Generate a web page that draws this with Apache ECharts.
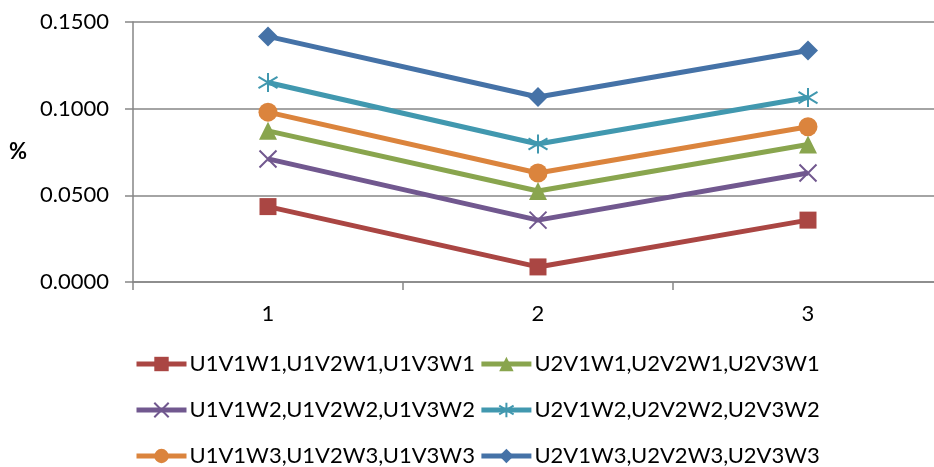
<!DOCTYPE html>
<html><head><meta charset="utf-8">
<script src="https://cdn.jsdelivr.net/npm/echarts@6/dist/echarts.min.js"></script>
<style>html,body{margin:0;padding:0;background:#fff}#c{width:934px;height:467px}</style>
</head><body><div id="c"></div>
<script>
const categories = ['1', '2', '3'];
const seriesNames = [
  'U1V1W1,U1V2W1,U1V3W1', 'U2V1W1,U2V2W1,U2V3W1',
  'U1V1W2,U1V2W2,U1V3W2', 'U2V1W2,U2V2W2,U2V3W2',
  'U1V1W3,U1V2W3,U1V3W3', 'U2V1W3,U2V2W3,U2V3W3'
];
const s1 = [0.0435, 0.0087, 0.0357];
const s2 = [0.0872, 0.0525, 0.0793];
const s3 = [0.0710, 0.0357, 0.0629];
const s4 = [0.1151, 0.0796, 0.1064];
const s5 = [0.0980, 0.0629, 0.0896];
const s6 = [0.1417, 0.1067, 0.1336];
const yTicks = [0, 0.05, 0.10, 0.15];

const values = [s1, s2, s3, s4, s5, s6];
const colors = ['#AA4643', '#89A54E', '#71588F', '#4198AF', '#DB843D', '#4572A7'];
const symbols = ['rect', 'triangle', 'path://M0,0L10,10M10,0L0,10',
  'path://M5,0L5,10M0,2L10,8M0,8L10,2', 'circle', 'diamond'];
const symSizes = [17, 18, 17, 19, 19, 20];

const font = 'Lato, "Open Sans", sans-serif';
const chart = echarts.init(document.getElementById('c'));
const series = values.map((v, i) => {
  const stroked = symbols[i].startsWith('path');
  return {
    name: seriesNames[i], type: 'line', data: v,
    symbol: symbols[i], symbolSize: symSizes[i],
    lineStyle: {color: colors[i], width: 5},
    itemStyle: {color: colors[i], borderColor: colors[i], borderWidth: stroked ? 2 : 0},
    z: 10 - i
  };
});
const legendRow = (names, top) => ({
  data: names, top: top, left: 134, orient: 'horizontal',
  itemWidth: 50, itemHeight: 18, itemGap: 4,
  lineStyle: {width: 5},
  textStyle: {fontFamily: font, fontSize: 22, color: '#000', padding: [0, 0, 0, -2]},
  padding: 0
});
chart.setOption({
  animation: false,
  grid: {left: 133, top: 22, width: 810, height: 260, outerBoundsMode: 'none', containLabel: false},
  legend: [
    legendRow([seriesNames[0], seriesNames[1]], 353),
    legendRow([seriesNames[2], seriesNames[3]], 399),
    legendRow([seriesNames[4], seriesNames[5]], 445)
  ],
  xAxis: {
    type: 'category', data: categories, boundaryGap: true,
    axisLine: {lineStyle: {color: '#868686', width: 1.5}},
    axisTick: {show: true, length: 8, lineStyle: {color: '#868686', width: 1.5}},
    axisLabel: {fontFamily: font, fontSize: 22, color: '#000', margin: 21}
  },
  yAxis: {
    type: 'value', min: yTicks[0], max: yTicks[yTicks.length - 1], interval: 0.05,
    name: '%', nameLocation: 'middle', nameRotate: 0, nameGap: 106,
    nameTextStyle: {fontFamily: font, fontSize: 22, fontWeight: 'bold', color: '#000'},
    axisLine: {show: true, lineStyle: {color: '#868686', width: 1.5}},
    axisTick: {show: true, length: 8, lineStyle: {color: '#868686', width: 1.5}},
    splitLine: {lineStyle: {color: '#868686', width: 1.5}},
    axisLabel: {fontFamily: font, fontSize: 22, color: '#000', margin: 24,
      formatter: v => v.toFixed(4)}
  },
  series: series
});
</script></body></html>
